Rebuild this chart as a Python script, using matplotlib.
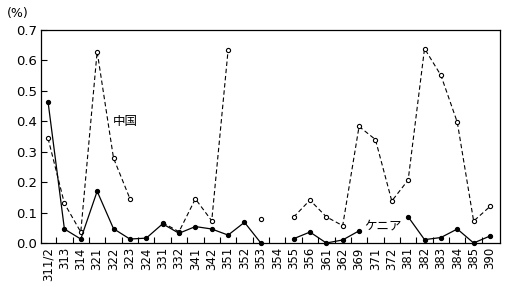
import matplotlib
matplotlib.use("Agg")
import matplotlib.pyplot as plt
import numpy as np

plt.rcParams['font.family'] = ['DejaVu Sans', 'Noto Sans CJK JP']

categories = ['311/2', '313', '314', '321', '322', '323', '324', '331', '332',
              '341', '342', '351', '352', '353', '354', '355', '356', '361',
              '362', '369', '371', '372', '381', '382', '383', '384', '385', '390']

nan = np.nan
# 中国 (open circles, dashed)
china = [0.344, 0.130, 0.036, 0.629, 0.279, 0.146, nan, 0.067, 0.037,
         0.145, 0.073, 0.634, nan, 0.080, nan, 0.085, 0.141, 0.086,
         0.057, 0.383, 0.340, 0.138, 0.207, 0.639, 0.551, 0.397, 0.072, 0.120]
# ケニア (filled circles, solid)
kenya = [0.464, 0.046, 0.013, 0.170, 0.047, 0.013, 0.016, 0.063, 0.032,
         0.054, 0.046, 0.026, 0.068, 0.0, nan, 0.014, 0.036, 0.0,
         0.010, 0.040, nan, nan, 0.086, 0.011, 0.018, 0.046, 0.0, 0.023]

x = np.arange(len(categories))

fig = plt.figure(figsize=(5.09, 2.87), dpi=100)
ax = fig.add_axes([41/509, 44/287, 459/509, 213/287])

ax.plot(x, china, color='black', lw=0.8, ls=(0, (4, 2.5)), marker='o', ms=3.0,
        mfc='white', mec='black', mew=0.8, clip_on=False, zorder=3)
ax.plot(x, kenya, color='black', lw=0.9, ls='-', marker='o', ms=2.8,
        mfc='black', mec='black', clip_on=False, zorder=4)

ax.set_xlim(-0.43, 27.61)
ax.set_ylim(0, 0.7)
ax.set_yticks(np.arange(0, 0.71, 0.1))
ax.set_yticklabels(['%.1f' % v for v in np.arange(0, 0.71, 0.1)], fontsize=9.5)
ax.set_xticks(x)
ax.set_xticklabels(categories, rotation=90, fontsize=8.5)
ax.set_xticks(x[:-1] + 0.5, minor=True)
ax.tick_params(axis='x', which='major', length=0, pad=3)
ax.tick_params(axis='x', which='minor', direction='in', length=4, width=0.8)
ax.tick_params(axis='y', direction='in', length=4, width=0.8, pad=3)
for s in ax.spines.values():
    s.set_linewidth(0.9)

ax.text(3.95, 0.40, '中国', fontsize=9, family=['Noto Sans CJK JP'], va='center', ha='left')
ax.text(19.3, 0.057, 'ケニア', fontsize=9, family=['Noto Sans CJK JP'], va='center', ha='left')
fig.text(7/509, 1 - 14/287, '(%)', fontsize=9, va='center', ha='left')

fig.savefig('out.png', dpi=100)
